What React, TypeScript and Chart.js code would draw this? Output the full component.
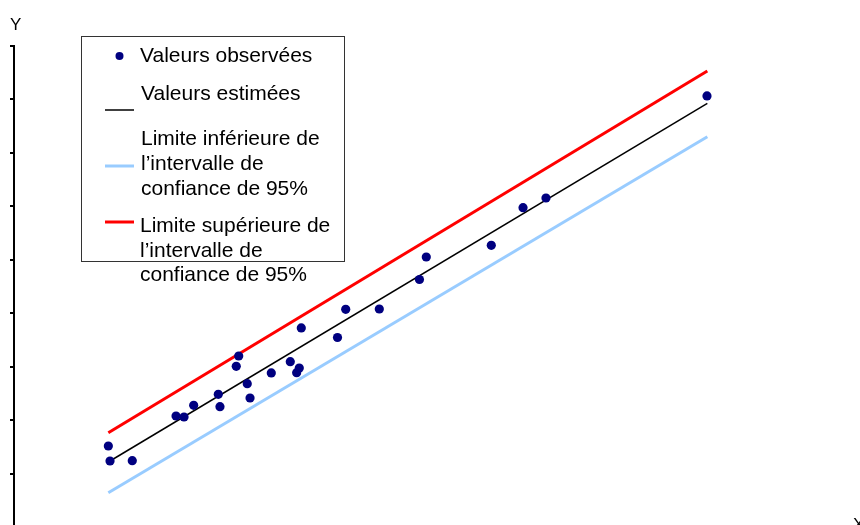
import React, { useEffect, useRef } from "react";
import { Chart, registerables } from "chart.js";

Chart.register(...registerables);

// Observed values
const obsX = [1.123, 1.143, 1.408, 1.929, 2.024, 2.139, 2.432, 2.452, 2.646, 2.675, 2.777, 2.81, 3.063, 3.289, 3.365, 3.396, 3.42, 3.851, 3.949, 4.349, 4.827, 4.908, 5.682, 6.06, 6.333, 8.25];
const obsY = [1.516, 1.235, 1.241, 2.077, 2.058, 2.277, 2.483, 2.251, 3.007, 3.2, 2.681, 2.414, 2.882, 3.093, 2.887, 2.975, 3.724, 3.546, 4.073, 4.079, 4.631, 5.052, 5.271, 5.975, 6.156, 8.065];

// Regression line and 95% confidence bounds (start and end)
const lineX = [1.123, 8.254];
const estY = [1.216, 7.928];
const lowerY = [0.642, 7.303];
const upperY = [1.764, 8.532];

const legendLabels = {
  observed: ["Valeurs observées"],
  estimated: ["Valeurs estimées"],
  lower: ["Limite inférieure de", "l’intervalle de", "confiance de 95%"],
  upper: ["Limite supérieure de", "l’intervalle de", "confiance de 95%"],
};

const NAVY = "#000080";
const BLUE = "#99CCFF";
const RED = "#FF0000";

const toPts = (xs: number[], ys: number[]) => xs.map((x, i) => ({ x, y: ys[i] }));

const overlayPlugin = {
  id: "overlay",
  afterDraw(chart: any) {
    const ctx = chart.ctx as CanvasRenderingContext2D;
    ctx.save();
    // axis letters
    ctx.fillStyle = "#000";
    ctx.font = "17px Arial, 'Liberation Sans', sans-serif";
    ctx.textBaseline = "alphabetic";
    ctx.textAlign = "left";
    ctx.fillText("Y", 10, 30);
    ctx.fillText("X", 853, 530);

    // legend box
    ctx.fillStyle = "#fff";
    ctx.fillRect(81.5, 36.5, 263, 225);
    ctx.strokeStyle = "#333";
    ctx.lineWidth = 1;
    ctx.strokeRect(81.5, 36.5, 263, 225);

    ctx.fillStyle = NAVY;
    ctx.beginPath();
    ctx.arc(119.5, 56, 4, 0, Math.PI * 2);
    ctx.fill();

    const seg = (y: number, color: string, w: number) => {
      ctx.strokeStyle = color;
      ctx.lineWidth = w;
      ctx.beginPath();
      ctx.moveTo(105, y);
      ctx.lineTo(134, y);
      ctx.stroke();
    };
    seg(110, "#000", 1.5);
    seg(166, BLUE, 3);
    seg(222, RED, 3);

    ctx.fillStyle = "#000";
    ctx.font = "21px Arial, 'Liberation Sans', sans-serif";
    ctx.fillText(legendLabels.observed[0], 140, 62);
    ctx.fillText(legendLabels.estimated[0], 141, 100);
    legendLabels.lower.forEach((t, i) => ctx.fillText(t, 141, 145 + i * 25));
    legendLabels.upper.forEach((t, i) => ctx.fillText(t, 140, 232 + i * 24.5));
    ctx.restore();
  },
};

export default function App() {
  const ref = useRef<HTMLCanvasElement | null>(null);
  useEffect(() => {
    if (!ref.current) return;
    const chart = new Chart(ref.current, {
      type: "scatter",
      data: {
        datasets: [
          {
            label: "Valeurs observées",
            data: toPts(obsX, obsY),
            backgroundColor: NAVY,
            borderColor: NAVY,
            borderWidth: 0,
            pointRadius: 4.6,
            showLine: false,
          },
          {
            label: "Valeurs estimées",
            data: toPts(lineX, estY),
            borderColor: "#000",
            borderWidth: 1.5,
            pointRadius: 0,
            showLine: true,
          },
          {
            label: "Limite inférieure",
            data: toPts(lineX, lowerY),
            borderColor: BLUE,
            borderWidth: 3,
            pointRadius: 0,
            showLine: true,
          },
          {
            label: "Limite supérieure",
            data: toPts(lineX, upperY),
            borderColor: RED,
            borderWidth: 3,
            pointRadius: 0,
            showLine: true,
          },
        ],
      },
      options: {
        responsive: false,
        animation: false,
        devicePixelRatio: 1,
        layout: { padding: { left: 10, right: 6, top: 46, bottom: 13 } },
        plugins: { legend: { display: false }, tooltip: { enabled: false } },
        scales: {
          x: { type: "linear", min: 0, max: 10, display: false },
          y: {
            type: "linear",
            min: 0,
            max: 9,
            ticks: { stepSize: 1, display: false },
            grid: {
              drawOnChartArea: false,
              drawTicks: true,
              tickLength: 4,
              color: "#000",
              lineWidth: 2,
            },
            border: { display: true, color: "#000", width: 2 },
          },
        },
      },
      plugins: [overlayPlugin],
    });
    return () => chart.destroy();
  }, []);
  return (
    <div style={{ position: "absolute", left: 0, top: 0, width: 860, height: 525, overflow: "hidden", background: "#fff" }}>
      <canvas ref={ref} width={860} height={540} style={{ display: "block" }} />
    </div>
  );
}
